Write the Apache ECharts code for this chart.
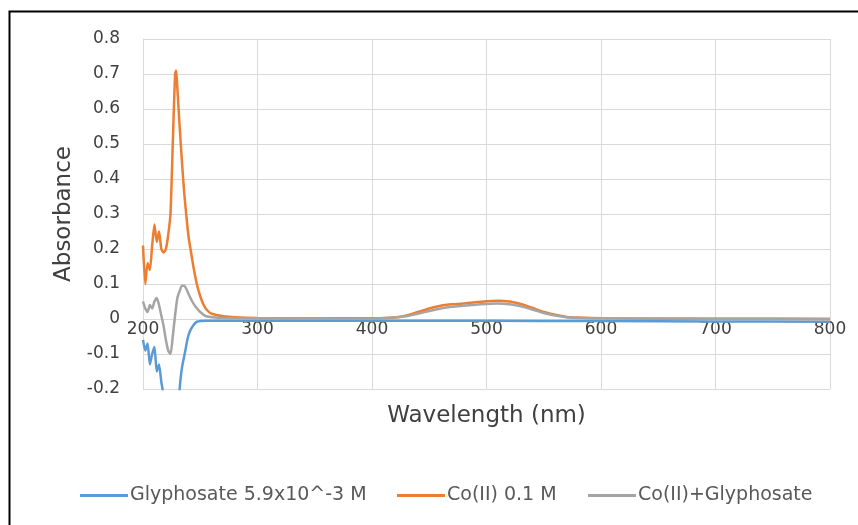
<!DOCTYPE html>
<html>
<head>
<meta charset="utf-8">
<script src="https://cdn.jsdelivr.net/npm/echarts@6/dist/echarts.min.js"></script>
<style>
  html, body { margin: 0; padding: 0; background: #fff; }
  #chart { width: 858px; height: 525px; }
</style>
</head>
<body>
<div id="chart"></div>
<script>
// Glyphosate 5.9x10^-3 M
const glyNm = [200, 202, 204, 206, 208, 210, 212, 214, 216, 218, 220, 225, 230, 232, 234, 237, 239, 241, 244, 247, 255, 300, 400, 500, 600, 700, 800]
const glyAbs = [-0.06, -0.09, -0.07, -0.13, -0.1, -0.08, -0.15, -0.13, -0.18, -0.22, -0.35, -0.5, -0.3, -0.2, -0.14, -0.09, -0.055, -0.035, -0.018, -0.008, -0.005, -0.005, -0.005, -0.005, -0.006, -0.007, -0.008]

// Co(II) 0.1 M
const coNm = [200, 202, 204, 206, 208, 210, 212, 214, 216, 218, 220, 222, 224, 226, 228, 229, 230, 232, 234, 236, 238, 240, 242, 244, 247, 250, 253, 256, 260, 270, 280, 300, 350, 400, 420, 430, 440, 450, 460, 470, 480, 490, 500, 510, 520, 530, 540, 550, 560, 570, 580, 600, 650, 700, 800]
const coAbs = [0.21, 0.1, 0.16, 0.14, 0.21, 0.27, 0.22, 0.25, 0.2, 0.19, 0.2, 0.24, 0.3, 0.5, 0.7, 0.71, 0.66, 0.55, 0.45, 0.36, 0.29, 0.23, 0.19, 0.15, 0.1, 0.065, 0.04, 0.025, 0.015, 0.008, 0.005, 0.003, 0.002, 0.002, 0.004, 0.01, 0.02, 0.03, 0.038, 0.042, 0.044, 0.048, 0.051, 0.052, 0.05, 0.043, 0.032, 0.02, 0.012, 0.006, 0.004, 0.002, 0.001, 0.001, 0]

// Co(II)+Glyphosate
const mixNm = [200, 202, 204, 206, 208, 210, 212, 214, 216, 218, 220, 222, 224, 226, 228, 230, 232, 234, 236, 238, 240, 243, 246, 250, 255, 270, 300, 400, 430, 440, 450, 460, 470, 480, 490, 500, 510, 520, 530, 540, 550, 560, 570, 580, 600, 700, 800]
const mixAbs = [0.05, 0.03, 0.02, 0.04, 0.03, 0.05, 0.06, 0.04, 0.01, -0.02, -0.06, -0.09, -0.1, -0.05, 0.01, 0.06, 0.08, 0.095, 0.095, 0.085, 0.07, 0.05, 0.035, 0.02, 0.008, 0.003, 0.002, 0.001, 0.008, 0.015, 0.023, 0.03, 0.035, 0.038, 0.041, 0.043, 0.044, 0.042, 0.036, 0.027, 0.017, 0.01, 0.005, 0.003, 0.002, 0.001, 0]

const names = ['Glyphosate 5.9x10^-3 M', 'Co(II) 0.1 M', 'Co(II)+Glyphosate']
const colors = ['#5B9BD5', '#ED7D31', '#A5A5A5']

const pairs = (xs, ys) => xs.map((x, i) => [x, ys[i]])
const font = 'DejaVu Sans'

const chart = echarts.init(document.getElementById('chart'))

// Excel-style legend: each entry placed on its own
const legendAt = (name, left) => ({
    left: left,
    top: 481,
    data: [name],
    icon: 'rect',
    itemWidth: 48,
    itemHeight: 3,
    itemGap: 0,
    textStyle: { fontFamily: font, fontSize: 19, color: '#595959', padding: [0, 0, 0, -3] }
})

chart.setOption({
    animation: false,
    backgroundColor: '#fff',
    color: colors,
    grid: { left: 143, right: 28, top: 39, bottom: 136 },
    legend: [legendAt(names[0], 75), legendAt(names[1], 392), legendAt(names[2], 583)],
    graphic: [{
        type: 'rect',
        left: 7, top: 9,
        shape: { width: 900, height: 600 },
        style: { fill: 'none', stroke: '#000', lineWidth: 2 }
    }],
    xAxis: {
        type: 'value',
        min: 200, max: 800, interval: 100,
        offset: -70,
        name: 'Wavelength (nm)',
        nameLocation: 'middle',
        nameGap: 86,
        nameTextStyle: { fontFamily: font, fontSize: 23, color: '#404040' },
        axisLine: { onZero: false, lineStyle: { color: '#d9d9d9' } },
        axisTick: { show: true, length: 4, lineStyle: { color: '#d9d9d9' } },
        axisLabel: { fontFamily: font, fontSize: 17, color: '#404040', margin: 2 },
        splitLine: { show: true, lineStyle: { color: '#d9d9d9' } }
    },
    yAxis: {
        type: 'value',
        min: -0.2, max: 0.8, interval: 0.1,
        name: 'Absorbance',
        nameLocation: 'middle',
        nameGap: 66,
        nameTextStyle: { fontFamily: font, fontSize: 23, color: '#404040' },
        axisLine: { show: true, lineStyle: { color: '#d9d9d9' } },
        axisTick: { show: false },
        axisLabel: {
            fontFamily: font, fontSize: 17, color: '#404040', margin: 23,
            formatter: v => String(+v.toFixed(1))
        },
        splitLine: { show: true, lineStyle: { color: '#d9d9d9' } }
    },
    series: [
        { name: names[0], type: 'line', symbol: 'none', smooth: 0.2, clip: true, lineStyle: { width: 2.5 }, data: pairs(glyNm, glyAbs) },
        { name: names[1], type: 'line', symbol: 'none', smooth: 0.2, clip: true, lineStyle: { width: 2.5 }, data: pairs(coNm, coAbs) },
        { name: names[2], type: 'line', symbol: 'none', smooth: 0.2, clip: true, lineStyle: { width: 2.5 }, data: pairs(mixNm, mixAbs) }
    ]
})
</script>
</body>
</html>
